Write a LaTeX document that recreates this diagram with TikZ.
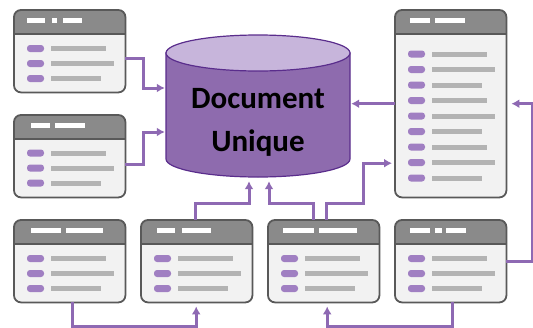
\documentclass[tikz,border=0pt]{standalone}
\usepackage{fontspec}
\setmainfont{Carlito}
\usetikzlibrary{arrows.meta}
\usetikzlibrary{calc}

\definecolor{winedge}{HTML}{595959}
\definecolor{wintitle}{HTML}{8A8A8A}
\definecolor{winbody}{HTML}{F2F2F2}
\definecolor{pillc}{HTML}{A07FC2}
\definecolor{barc}{HTML}{B3B3B3}
\definecolor{linkc}{HTML}{8E69B3}
\definecolor{dbbody}{HTML}{8E6BAE}
\definecolor{dbedge}{HTML}{5A2D8C}
\definecolor{dbtop}{HTML}{C7B5DB}

\tikzset{
  winbox/.style = {rectangle, inner sep = 0, minimum width = 111pt},
  link/.style = {draw = linkc, line width = 3pt,
    -{Latex[length = 8pt, width = 9pt]}}
}

% name, north west corner, height, rows, first row, row step, title marks
\newcommand\appwin[7]{
  \node[winbox, minimum height = #3, anchor = north west] (#1) at #2 {};
  \fill[winbody, rounded corners = 7pt] (#1.north west) rectangle (#1.south east);
  \fill[wintitle] ([yshift = -23pt]#1.north west) [rounded corners = 7pt]
    -- (#1.north west) -- (#1.north east) [sharp corners]
    -- ([yshift = -23pt]#1.north east) -- cycle;
  \draw[winedge, line width = 1.2pt]
    ([yshift = -24pt]#1.north west) -- ([yshift = -24pt]#1.north east);
  \draw[winedge, line width = 1.8pt, rounded corners = 7pt]
    (#1.north west) rectangle (#1.south east);
  \foreach \mx/\mw in {#7}
    \fill[white] ([xshift = \mx pt, yshift = -8pt]#1.north west) rectangle ++(\mw pt, -5pt);
  \foreach \r in {1, ..., #4} {
    \pgfmathsetmacro\barlen{{55,63,50}[mod(\r - 1, 3)]}
    \pgfmathsetmacro\rowy{#5 + #6 * (\r - 1)}
    \fill[pillc, rounded corners = 3pt]
      ([xshift = 13pt, yshift = -\rowy pt + 3.5pt]#1.north west) rectangle ++(17pt, -7pt);
    \fill[barc]
      ([xshift = 37pt, yshift = -\rowy pt + 2.5pt]#1.north west) rectangle ++(\barlen pt, -5pt);
  }
}

\begin{document}
\begin{tikzpicture}[x = 1pt, y = 1pt]
  \fill[white] (0, 0) rectangle (533, -327);
  \useasboundingbox (0, 0) rectangle (533, -327);

  % the database
  \node[minimum width = 184pt, minimum height = 142pt, inner sep = 0] (db) at (258, -106) {};
  \draw[dbedge, fill = dbbody, line width = 1.2pt]
    (166, -53) -- (166, -159) arc[start angle = 180, end angle = 360,
    x radius = 92, y radius = 18] -- (350, -53) -- cycle;
  \draw[dbedge, fill = dbtop, line width = 1.2pt]
    (258, -53) ellipse [x radius = 92, y radius = 18];
  \node[font = \bfseries\fontsize{31}{43}\selectfont, align = center]
    (dbtext) at (258, -122) {Document\\Unique};

  % the windows
  \appwin{w1}{(14, -10)}{82pt}{3}{38.5}{15}{13/18, 38/5, 49/19}
  \appwin{w2}{(14, -115)}{82pt}{3}{38}{15}{17/19, 41/30}
  \appwin{wr}{(395, -10)}{187pt}{9}{44}{15.5}{15/20, 40/30}
  \appwin{wa}{(14, -220)}{82pt}{3}{38.5}{15}{17/30, 52/37}
  \appwin{wb}{(141, -220)}{82pt}{3}{38.5}{15}{16/18, 41/29}
  \appwin{wc}{(268, -220)}{82pt}{3}{38.5}{15}{15/31, 51/38}
  \appwin{wd}{(395, -220)}{82pt}{3}{38.5}{15}{15/20, 40/7, 51/20}

  % the links
  \draw[link, shorten > = 1pt] ([yshift = -7pt]w1.east) -- ++(18, 0)
    |- ([yshift = 18pt]db.west);
  \draw[link, shorten > = 1pt] ([yshift = -8pt]w2.east) -- ++(18, 0)
    |- ([yshift = -26pt]db.west);
  \draw[link, shorten > = 1pt] (wr.west) -- (wr.west -| db.east);
  \draw[link, shorten > = 5pt] (wd.east) -- ++(26, 0) |- (wr.east);
  \draw[link, shorten > = 4pt] ([xshift = 2pt]wd.south) -- ++(0, -24)
    -| ([xshift = 3.5pt]wc.south);
  \draw[link, shorten > = 4pt] ([xshift = 2.5pt]wa.south) -- ++(0, -24)
    -| ([xshift = -0.5pt]wb.south);
  \draw[link, shorten > = 4pt] ([xshift = -1.5pt]wb.north) -- ++(0, 17)
    -| ([xshift = -9pt]db.south);
  \draw[link, shorten > = 4pt] ([xshift = -10.5pt]wc.north) -- ++(0, 17)
    -| ([xshift = 11pt]db.south);
  \draw[link, shorten > = 3pt] ([xshift = 2.5pt]wc.north) -- ++(0, 17)
    -- ++(37, 0) |- ([yshift = -59.5pt]wr.west);
\end{tikzpicture}
\end{document}
